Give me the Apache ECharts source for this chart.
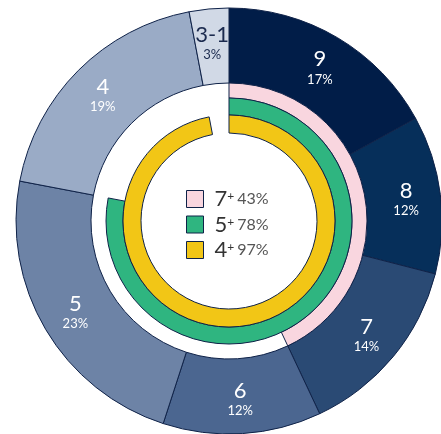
<!DOCTYPE html>
<html>
<head>
<meta charset="utf-8">
<script src="https://cdn.jsdelivr.net/npm/echarts@6/dist/echarts.min.js"></script>
<style>
  html, body { margin: 0; padding: 0; background: #fff; }
  #chart { width: 441px; height: 434px; }
</style>
</head>
<body>
<div id="chart"></div>
<script>
  // outer ring: grade shares
  var grades = ['9', '8', '7', '6', '5', '4', '3-1'];
  var gradeShare = [17, 12, 14, 12, 23, 19, 3];
  var gradeColors = ['#011d48', '#062f5a', '#2a4a74', '#4b6690', '#6d83a6', '#9aabc6', '#d1d9e6'];
  var gradeLabelColors = ['#fff', '#fff', '#fff', '#fff', '#fff', '#fff', '#1b2a4e'];

  // inner rings: cumulative shares
  var bands = ['7+', '5+', '4+'];
  var bandShare = [43, 78, 97];
  var bandColors = ['#f9d6df', '#2fb580', '#f2c616'];
  var bandRadius = [[123, 138], [106, 123], [88, 106]];

  var line = '#0f2248';
  var center = [229, 221];
  var font = 'Lato';

  var chart = echarts.init(document.getElementById('chart'));

  var series = [{
    type: 'pie',
    center: center,
    radius: [138, 213],
    startAngle: 90,
    clockwise: true,
    silent: true,
    avoidLabelOverlap: false,
    itemStyle: { borderColor: line, borderWidth: 1 },
    label: {
      show: true,
      position: 'inside',
      fontFamily: font,
      formatter: '{n|{b}}\n{p|{c}%}',
      rich: {
        n: { fontSize: 22, lineHeight: 24, fontFamily: font },
        p: { fontSize: 13, lineHeight: 16, fontFamily: font }
      }
    },
    labelLine: { show: false },
    data: grades.map(function(g, i) {
      return {
        name: g,
        value: gradeShare[i],
        itemStyle: { color: gradeColors[i] },
        label: { color: gradeLabelColors[i] }
      };
    })
  }];

  bands.forEach(function(b, i) {
    series.push({
      type: 'pie',
      center: center,
      radius: bandRadius[i],
      startAngle: 90,
      clockwise: true,
      silent: true,
      label: { show: false },
      labelLine: { show: false },
      data: [
        { name: b, value: bandShare[i], itemStyle: { color: bandColors[i], borderColor: line, borderWidth: 1 } },
        { name: 'rest' + i, value: 100 - bandShare[i], itemStyle: { color: 'transparent', borderWidth: 0 } }
      ]
    });
  });

  var option = {
    animation: false,
    legend: {
      data: bands,
      orient: 'vertical',
      left: 181,
      top: 183,
      itemWidth: 17,
      itemHeight: 17,
      itemGap: 3.5,
      selectedMode: false,
      icon: 'rect',
      itemStyle: { borderColor: line, borderWidth: 1 },
      formatter: function(name) {
        var i = bands.indexOf(name);
        return '{n|' + name.charAt(0) + '}{s|+} {p|' + bandShare[i] + '%}';
      },
      textStyle: {
        fontFamily: font,
        color: '#3a3a3a',
        lineHeight: 17,
        rich: {
          n: { fontSize: 22, lineHeight: 17, fontFamily: font, color: '#333', padding: [0, 0, 0, 6] },
          s: { fontSize: 12, lineHeight: 10, verticalAlign: 'top', fontFamily: font, color: '#333' },
          p: { fontSize: 16, lineHeight: 17, fontFamily: font, color: '#555' }
        }
      }
    },
    series: series
  };
  chart.setOption(option);
</script>
</body>
</html>
